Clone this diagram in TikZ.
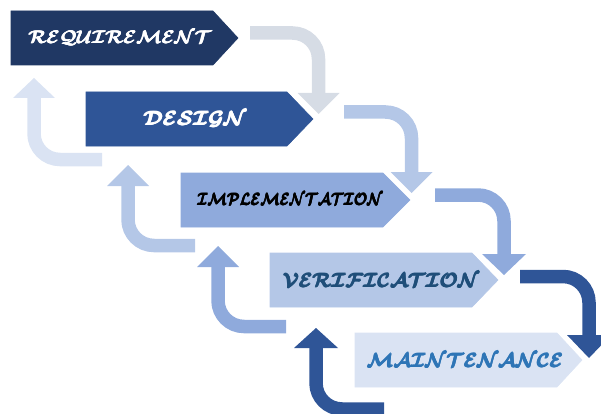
\documentclass[tikz,border=0pt]{standalone}
\usepackage{graphicx}
\usetikzlibrary{calc}
\definecolor{navy}{HTML}{203864}
\definecolor{royal}{HTML}{2F5597}
\definecolor{cornflower}{HTML}{8FAADC}
\definecolor{sky}{HTML}{B4C7E7}
\definecolor{mist}{HTML}{DAE3F3}
\definecolor{ash}{HTML}{D6DCE5}
\definecolor{inkblue}{HTML}{1F4E79}
\definecolor{midblue}{HTML}{2E75B6}
% heavy calligraphic caps: the word is overprinted with small offsets
\newcommand{\heavycal}[1]{\boldmath\rlap{$\mathcal{#1}$}\rlap{\kern.45pt$\mathcal{#1}$}\rlap{\kern.22pt\raise.3pt\hbox{$\mathcal{#1}$}}\kern.45pt$\mathcal{#1}$}
\newcommand{\stagetext}[3]{\resizebox{#1pt}{#2pt}{\heavycal{#3}}}
\begin{document}
\begin{tikzpicture}[x=1pt,y=-1pt,
  band/.style={line width=13.5pt,line cap=butt,rounded corners=26pt},
  chev/.style={draw=white,line width=0.6pt},
  label/.style={inner sep=0pt,anchor=center}]
\useasboundingbox (0,0) rectangle (601,414);

% ---- stage chevrons ----
\fill[chev,navy]       (11,11)   -- (213,11)  -- (238,38)  -- (213,65)  -- (11,65)   -- cycle;
\fill[chev,royal]      (86,92)   -- (287,92)  -- (313,119) -- (287,146) -- (86,146)  -- cycle;
\fill[chev,cornflower] (181,173) -- (383,173) -- (410,200) -- (383,227) -- (181,227) -- cycle;
\fill[chev,sky]        (270,253) -- (472,253) -- (498,280) -- (472,307) -- (270,307) -- cycle;
\fill[chev,mist]       (355,333) -- (557,333) -- (582,360) -- (557,387) -- (355,387) -- cycle;

\node[label,text=white]   (req)  at (120,38)  {\stagetext{184}{13}{REQUIREMENT}};
\node[label,text=white]   (des)  at (195,119) {\stagetext{104}{14}{DESIGN}};
\node[label,text=black]   (imp)  at (290,199) {\stagetext{186}{12}{IMPLEMENTATION}};
\node[label,text=inkblue] (ver)  at (381,280) {\stagetext{197}{14}{VERIFICATION}};
\node[label,text=midblue] (main) at (465,360) {\stagetext{197}{14}{MAINTENANCE}};

% ---- forward bent arrows (right, then down) ----
\coordinate (a1) at (250,33);    \coordinate (a2) at (318.5,93);
\coordinate (b1) at (344,112);   \coordinate (b2) at (411.5,172);
\coordinate (c1) at (435,195);   \coordinate (c2) at (504,254);
\coordinate (d1) at (520,276.5); \coordinate (d2) at (589,335);

\draw[band,ash]        (a1) -| (a2);
\fill[ash]        ($(a2)+(-21,0)$) -- ($(a2)+(21,0)$) -- ($(a2)+(0,21)$) -- cycle;
\draw[band,sky]        (b1) -| (b2);
\fill[sky]        ($(b2)+(-21,0)$) -- ($(b2)+(21,0)$) -- ($(b2)+(0,21)$) -- cycle;
\draw[band,cornflower] (c1) -| (c2);
\fill[cornflower] ($(c2)+(-22,0)$) -- ($(c2)+(22,0)$) -- ($(c2)+(0,21)$) -- cycle;
\draw[band,royal]      (d1) -| (d2);
\fill[royal]      ($(d2)+(-22,0)$) -- ($(d2)+(22,0)$) -- ($(d2)+(0,23)$) -- cycle;

% ---- return bent arrows (left, then up) ----
\coordinate (e1) at (102,159.5); \coordinate (e2) at (34,98);
\coordinate (f1) at (195,245.5); \coordinate (f2) at (128,186);
\coordinate (g1) at (286,326.5); \coordinate (g2) at (218,267);
\coordinate (h1) at (384,409);   \coordinate (h2) at (316,348);

\draw[band,mist]       (e1) -| (e2);
\fill[mist]       ($(e2)+(-21,0)$) -- ($(e2)+(21,0)$) -- ($(e2)+(0,-20)$) -- cycle;
\draw[band,sky]        (f1) -| (f2);
\fill[sky]        ($(f2)+(-21,0)$) -- ($(f2)+(21,0)$) -- ($(f2)+(0,-21)$) -- cycle;
\draw[band,cornflower] (g1) -| (g2);
\fill[cornflower] ($(g2)+(-21,0)$) -- ($(g2)+(21,0)$) -- ($(g2)+(0,-21)$) -- cycle;
\draw[band,royal]      (h1) -| (h2);
\fill[royal]      ($(h2)+(-22,0)$) -- ($(h2)+(22,0)$) -- ($(h2)+(0,-20)$) -- cycle;
\end{tikzpicture}
\end{document}
